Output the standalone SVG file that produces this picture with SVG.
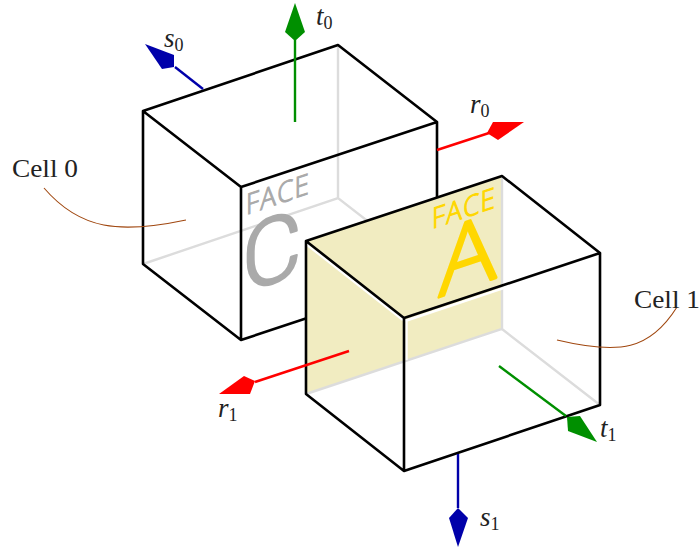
<svg xmlns="http://www.w3.org/2000/svg" width="699" height="548" viewBox="0 0 699 548">
<style>
.e{fill:none;stroke:#000;stroke-width:2.6;stroke-linejoin:round;stroke-linecap:round}
.h{fill:none;stroke:#dcdcdc;stroke-width:2.4}
.t{font-family:"Liberation Serif",serif;fill:#222;font-size:25px}
.m{font-family:"Liberation Serif",serif;font-style:italic;fill:#222;font-size:27px}
.s{font-size:18px;font-style:normal}
.f{font-family:"Open Sans",sans-serif;font-weight:300;font-size:26px;stroke-width:1}
.b{font-family:"Open Sans",sans-serif;font-weight:300;font-size:92px;stroke-width:3;stroke-linejoin:round;stroke-linecap:round}
.r{font-family:"Roboto",sans-serif;font-weight:300;font-size:92px;stroke-width:2.4;stroke-linejoin:round;stroke-linecap:round}
.c{fill:none;stroke:#a0470f;stroke-width:1.1}
.l{fill:none;stroke-width:2.4}
</style>
<rect width="699" height="548" fill="#fff"/>
<g id="cell0">
<path class="h" d="M338 45V198M143 264L338 198L437 275"/>
<g fill="#aaa" stroke="#aaa">
<text class="f" transform="matrix(1 -.337 0 1.1 246 215)" textLength="63">FACE</text>
<text class="r" transform="matrix(1 -.3 0 1 242 292)">C</text>
</g>
<path class="e" d="M143 111L338 45L437 122L241 187ZM143 111V264L241 340L437 275V122M241 187V340"/>
</g>
<g id="connectors0">
<path class="l" d="M203 89L175 67" stroke="#0000aa"/>
<path d="M145 44L174 55L174 67L162 69Z" fill="#0000aa"/>
<path class="l" d="M295 122V40" stroke="#008f00"/>
<path d="M295 3L305 32L295 41L285 32Z" fill="#008f00"/>
<path class="l" d="M437 150L489 133" stroke="#f00"/>
<path d="M524 122L493 122L487 133L498 140Z" fill="#f00"/>
</g>
<g id="cell1">
<path d="M306 241L502 176L600 253V405L404 471L306 394Z" fill="#fff"/>
<path d="M306 241L502 176V329L306 394Z" fill="#f1ecc1"/>
<path class="h" d="M502 176V329L306 394M502 329L600 405"/>
<g fill="#ffd700" stroke="#ffd700">
<text class="f" transform="matrix(1 -.337 0 1.1 432 229)" textLength="63">FACE</text>
<text class="b" transform="matrix(1 -.337 0 1 439 297)" textLength="57" lengthAdjust="spacingAndGlyphs">A</text>
</g>
<path d="M306 244L403 320M405 321L600 256M406.500 320V360" fill="none" stroke="#fff" stroke-width="2.4"/>
<path class="e" d="M306 241L502 176L600 253L404 318ZM306 241V394L404 471L600 405V253M404 318V471"/>
</g>
<g id="connectors1">
<path class="l" d="M349 351L255 382" stroke="#f00"/>
<path d="M219 394L244 376L255 381L250 394Z" fill="#f00"/>
<path class="l" d="M499 366L566 416" stroke="#008f00"/>
<path d="M597 442L568 431L567 417L580 416Z" fill="#008f00"/>
<path class="l" d="M458 454V508" stroke="#0000aa"/>
<path d="M458 508L468 518L458 547L449 518Z" fill="#0000aa"/>
<path class="c" d="M44 188C80 230 120 234 186 220"/>
<path class="c" d="M677 307C650 350 620 355 557 340"/>
</g>
<g id="labels">
<text class="t" x="12" y="177" textLength="66" lengthAdjust="spacingAndGlyphs">Cell 0</text>
<text class="t" x="634" y="308" textLength="66" lengthAdjust="spacingAndGlyphs">Cell 1</text>
<text class="m" x="164" y="47">s<tspan class="s" dy="4">0</tspan></text>
<text class="m" x="316" y="25">t<tspan class="s" dy="4">0</tspan></text>
<text class="m" x="470" y="113">r<tspan class="s" dy="4">0</tspan></text>
<text class="m" x="218" y="417">r<tspan class="s" dy="4">1</tspan></text>
<text class="m" x="600" y="437">t<tspan class="s" dy="4">1</tspan></text>
<text class="m" x="480" y="526">s<tspan class="s" dy="4">1</tspan></text>
</g>
</svg>
